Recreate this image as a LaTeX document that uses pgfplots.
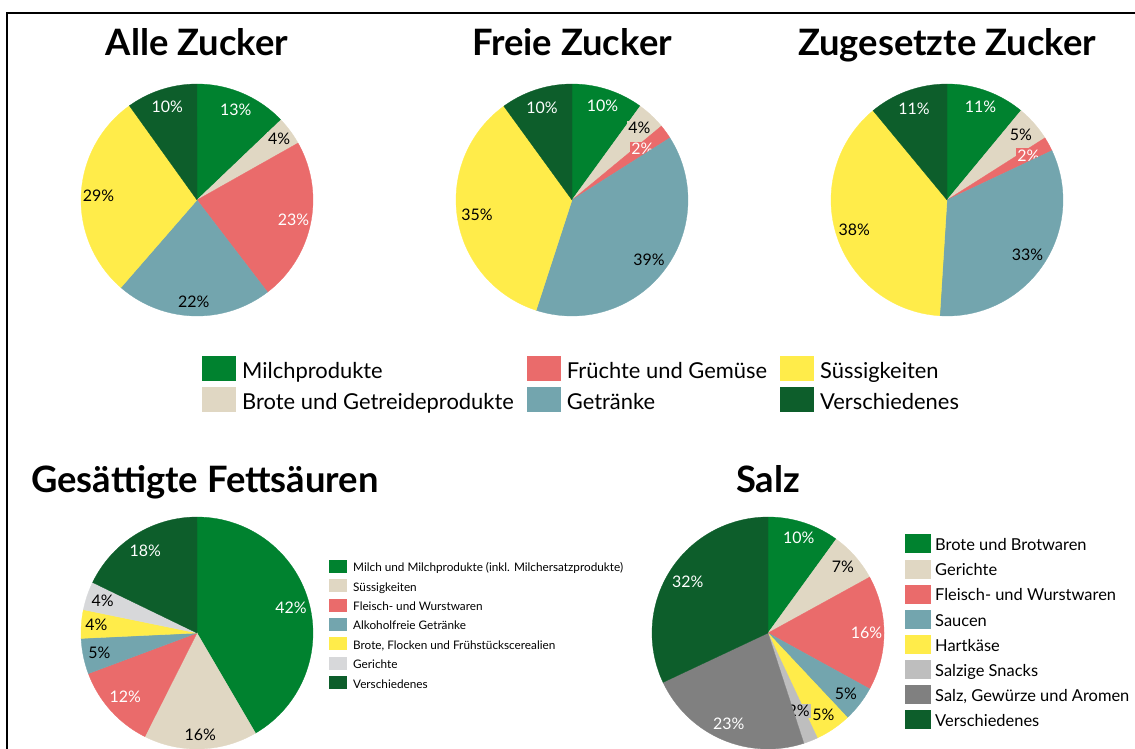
\documentclass[border=0pt]{standalone}
\usepackage{fontspec}
\setmainfont{Lato}
\usepackage{pgfplots}
\pgfplotsset{compat=1.18}
\definecolor{cMilch}{HTML}{00822F}
\definecolor{cBeige}{HTML}{E0D7C3}
\definecolor{cRed}{HTML}{EA6B6B}
\definecolor{cTeal}{HTML}{73A5AE}
\definecolor{cYellow}{HTML}{FFEC4A}
\definecolor{cDark}{HTML}{0D5E2B}
\definecolor{cLGray}{HTML}{D7D8DA}
\definecolor{cMGray}{HTML}{BEBEBE}
\definecolor{cDGray}{HTML}{808080}

\def\tot{100}
% #1 start, #2 end, #3 fill, #4 text colour, #5 value, #6 label radius, #7 node options
\newcommand\slice[7]{%
  \addplot[fill=#3, draw=#3, line width=0.3pt, domain=#1:#2, samples=60, variable=\t, forget plot]
    ({cos(90-360*\t/\tot)},{sin(90-360*\t/\tot)}) -- (axis cs:0,0) -- cycle;
  \node[text=#4, font=\fontsize{16}{16}\selectfont, inner sep=1bp, #7]
    at (axis cs:{#6*cos(90-360*(#1+#2)/2/\tot)},{#6*sin(90-360*(#1+#2)/2/\tot)}) {#5\%};
}
\pgfplotsset{pie/.style={width=232bp, height=232bp, scale only axis,
  xmin=-1, xmax=1, ymin=-1, ymax=1, enlargelimits=false,
  hide axis, clip=false, anchor=center}}

\begin{document}
\begin{tikzpicture}
\path[use as bounding box] (0,0) rectangle (1135bp,-749bp);
\draw[line width=2bp] (7bp,-749bp) -- (7bp,-13bp) -- (1135bp,-13bp);

\tikzset{ttl/.style={font=\fontsize{36.5}{36.5}\selectfont\bfseries, anchor=base, inner sep=0pt}}
\node[ttl] at (197bp,-55bp) {Alle Zucker};
\node[ttl] at (572bp,-55bp) {Freie Zucker};
\node[ttl] at (947bp,-55bp) {Zugesetzte Zucker};
\node[ttl] at (205bp,-492bp) {Gesättigte Fettsäuren};
\node[ttl] at (768bp,-492bp) {Salz};

% ---- Alle Zucker (values sum to 101)
\def\tot{101}
\begin{axis}[pie, at={(197bp,-200bp)},
  legend style={at={(axis cs:0.043,-1.345)}, anchor=north west, draw=none, fill=none,
    inner sep=0pt, font=\fontsize{22}{22}\selectfont, column sep=6bp, row sep=6bp,
    nodes={inner sep=0pt},
    /tikz/every even column/.append style={column sep=13bp, text height=22bp, text depth=5bp}},
  legend columns=3, legend cell align=left,
  legend image code/.code={\fill[#1, draw=none] (0bp,-12.5bp) rectangle (34bp,12.5bp);}]
\slice{0}{13}{cMilch}{white}{13}{0.85}{}
\slice{13}{17}{cBeige}{black}{4}{0.88}{fill=cBeige}
\slice{17}{40}{cRed}{white}{23}{0.85}{}
\slice{40}{62}{cTeal}{black}{22}{0.88}{}
\slice{62}{91}{cYellow}{black}{29}{0.85}{}
\slice{91}{101}{cDark}{white}{10}{0.84}{}
\addlegendimage{fill=cMilch}\addlegendentry{Milchprodukte}
\addlegendimage{fill=cRed}\addlegendentry{Früchte und Gemüse}
\addlegendimage{fill=cYellow}\addlegendentry{Süssigkeiten}
\addlegendimage{fill=cBeige}\addlegendentry{Brote und Getreideprodukte}
\addlegendimage{fill=cTeal}\addlegendentry{Getränke}
\addlegendimage{fill=cDark}\addlegendentry{Verschiedenes}
\end{axis}

% ---- Freie Zucker
\def\tot{100}
\begin{axis}[pie, at={(572bp,-200bp)}]
\slice{0}{10}{cMilch}{white}{10}{0.85}{}
\slice{10}{14}{cBeige}{black}{4}{0.85}{fill=cBeige}
\slice{14}{16}{cRed}{white}{2}{0.75}{fill=cRed}
\slice{16}{55}{cTeal}{black}{39}{0.84}{}
\slice{55}{90}{cYellow}{black}{35}{0.83}{}
\slice{90}{100}{cDark}{white}{10}{0.84}{}
\end{axis}

% ---- Zugesetzte Zucker
\begin{axis}[pie, at={(947bp,-200bp)}]
\slice{0}{11}{cMilch}{white}{11}{0.85}{}
\slice{11}{16}{cBeige}{black}{5}{0.85}{}
\slice{16}{18}{cRed}{white}{2}{0.8}{fill=cRed}
\slice{18}{51}{cTeal}{black}{33}{0.84}{}
\slice{51}{89}{cYellow}{black}{38}{0.84}{}
\slice{89}{100}{cDark}{white}{11}{0.84}{}
\end{axis}

% ---- Gesättigte Fettsäuren (values sum to 101)
\def\tot{101}
\begin{axis}[pie, at={(197bp,-633bp)},
  legend style={at={(axis cs:1.138,0.634)}, anchor=north west, draw=none, fill=none,
    inner sep=0pt, font=\fontsize{11.8}{11.8}\selectfont, column sep=6bp, row sep=5.9bp,
    nodes={inner sep=0pt},
    /tikz/every even column/.append style={text height=12bp, text depth=3bp}},
  legend cell align=left,
  legend image code/.code={\fill[#1, draw=none] (0bp,-6.5bp) rectangle (18bp,6.5bp);}]
\slice{0}{42}{cMilch}{white}{42}{0.84}{}
\slice{42}{58}{cBeige}{black}{16}{0.88}{}
\slice{58}{70}{cRed}{white}{12}{0.83}{}
\slice{70}{75}{cTeal}{black}{5}{0.86}{}
\slice{75}{79}{cYellow}{black}{4}{0.87}{}
\slice{79}{83}{cLGray}{black}{4}{0.86}{fill=cLGray}
\slice{83}{101}{cDark}{white}{18}{0.84}{}
\addlegendimage{fill=cMilch}\addlegendentry{Milch und Milchprodukte (inkl. Milchersatzprodukte)}
\addlegendimage{fill=cBeige}\addlegendentry{Süssigkeiten}
\addlegendimage{fill=cRed}\addlegendentry{Fleisch- und Wurstwaren}
\addlegendimage{fill=cTeal}\addlegendentry{Alkoholfreie Getränke}
\addlegendimage{fill=cYellow}\addlegendentry{Brote, Flocken und Frühstückscerealien}
\addlegendimage{fill=cLGray}\addlegendentry{Gerichte}
\addlegendimage{fill=cDark}\addlegendentry{Verschiedenes}
\end{axis}

% ---- Salz
\def\tot{100}
\begin{axis}[pie, at={(768bp,-633bp)},
  legend style={at={(axis cs:1.181,0.851)}, anchor=north west, draw=none, fill=none,
    inner sep=0pt, font=\fontsize{16.5}{16.5}\selectfont, column sep=4bp, row sep=6.1bp,
    nodes={inner sep=0pt},
    /tikz/every even column/.append style={text height=15bp, text depth=4.4bp}},
  legend cell align=left,
  legend image code/.code={\fill[#1, draw=none] (0bp,-9.5bp) rectangle (26bp,9.5bp);}]
\slice{0}{10}{cMilch}{white}{10}{0.86}{}
\slice{10}{17}{cBeige}{black}{7}{0.86}{}
\slice{17}{33}{cRed}{white}{16}{0.85}{}
\slice{33}{38}{cTeal}{black}{5}{0.85}{}
\slice{38}{43}{cYellow}{black}{5}{0.85}{}
\slice{43}{45}{cMGray}{black}{2}{0.72}{fill=cMGray}
\slice{45}{68}{cDGray}{white}{23}{0.85}{}
\slice{68}{100}{cDark}{white}{32}{0.82}{}
\addlegendimage{fill=cMilch}\addlegendentry{Brote und Brotwaren}
\addlegendimage{fill=cBeige}\addlegendentry{Gerichte}
\addlegendimage{fill=cRed}\addlegendentry{Fleisch- und Wurstwaren}
\addlegendimage{fill=cTeal}\addlegendentry{Saucen}
\addlegendimage{fill=cYellow}\addlegendentry{Hartkäse}
\addlegendimage{fill=cMGray}\addlegendentry{Salzige Snacks}
\addlegendimage{fill=cDGray}\addlegendentry{Salz, Gewürze und Aromen}
\addlegendimage{fill=cDark}\addlegendentry{Verschiedenes}
\end{axis}
\end{tikzpicture}
\end{document}
